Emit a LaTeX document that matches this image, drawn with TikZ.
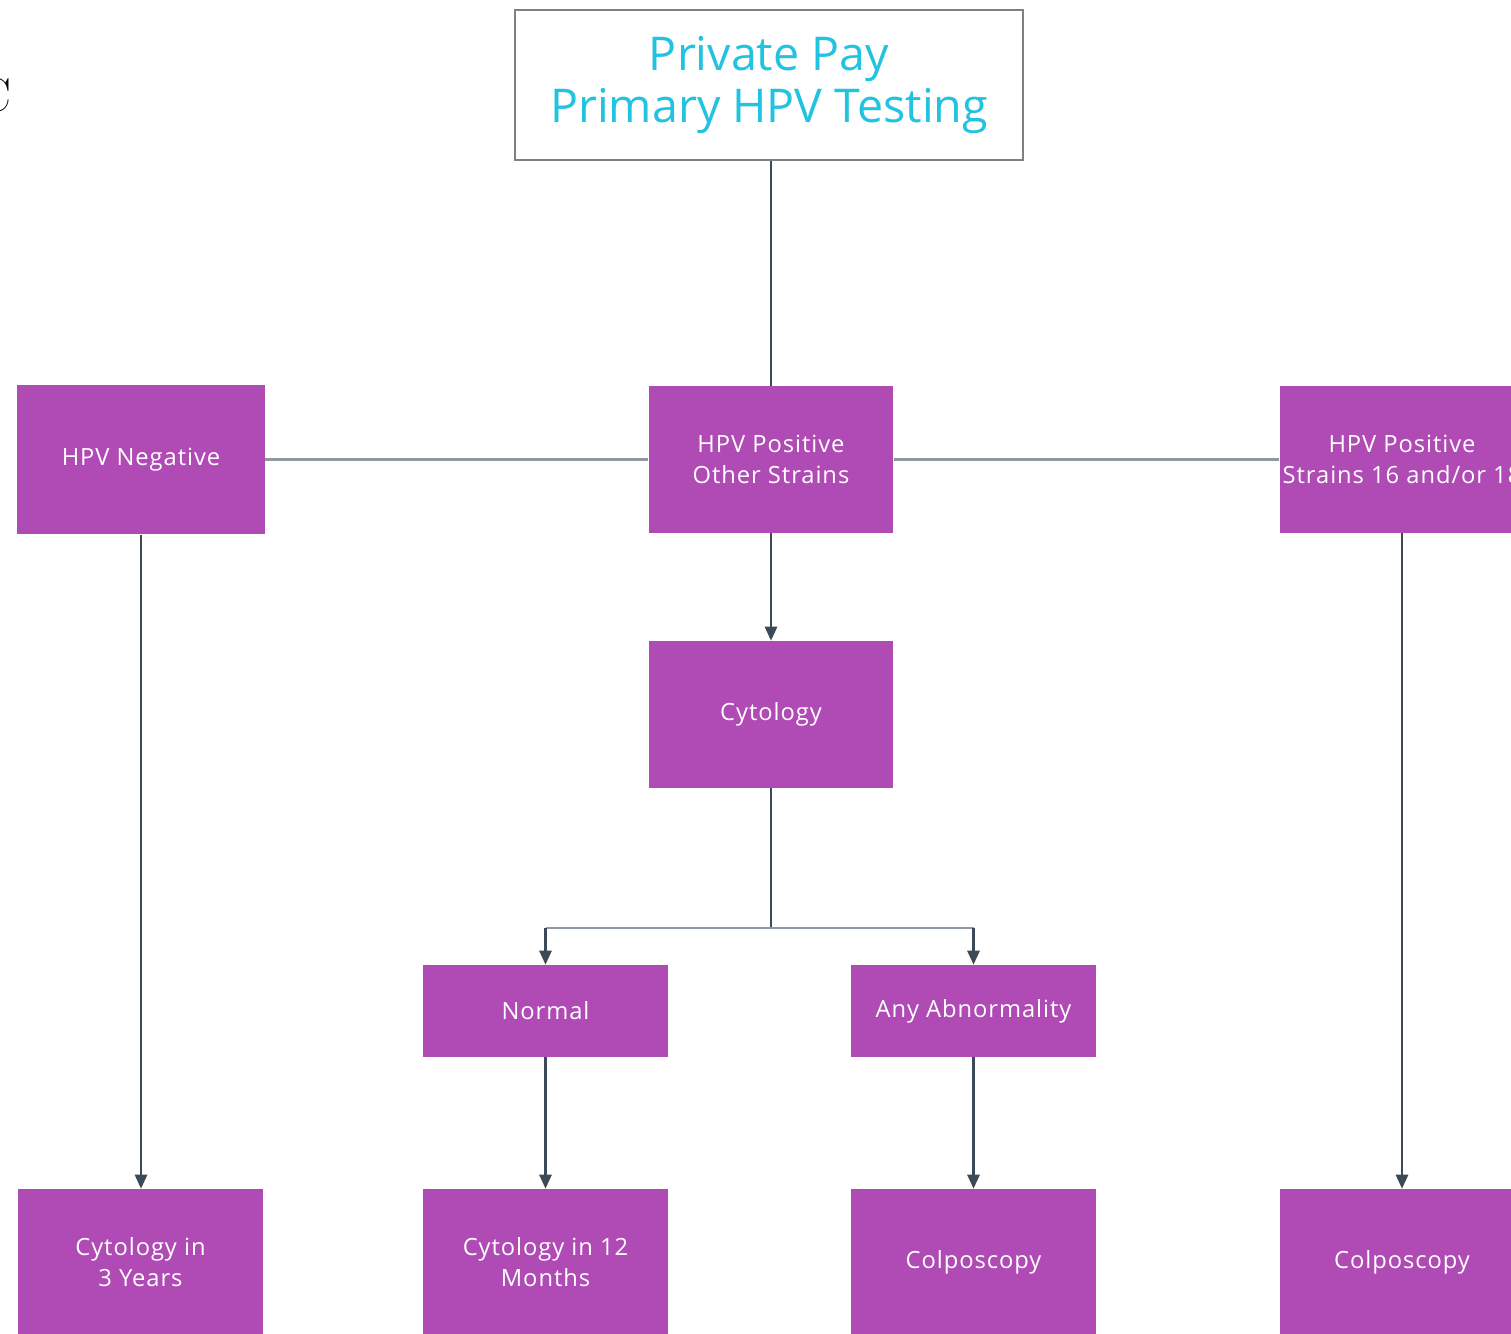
\documentclass[tikz,border=0pt]{standalone}
\usepackage{fontspec}
\setsansfont{Open Sans}
\newfontfamily\boxfont{Open Sans}[LetterSpace=4]
\usetikzlibrary{arrows.meta,calc}
\definecolor{hpvpurple}{HTML}{B04BB5}
\definecolor{hpvcyan}{HTML}{22C3E0}
\definecolor{linedark}{HTML}{3C4A58}
\definecolor{linegray}{HTML}{8E98A2}
\tikzset{
	boxp/.style={fill=hpvpurple, text=white, inner sep=0pt, align=center, minimum width=4.9cm, minimum height=2.94cm, font=\boxfont\fontsize{13.5}{18}\selectfont},
	boxlow/.style={boxp, minimum height=1.84cm},
	conn/.style={draw=linedark, line width=1.2pt},
	arr/.style={conn, -{Triangle[length=8pt,width=7pt]}},
	hline/.style={draw=linegray, line width=1.3pt}
}

\begin{document}
\begin{tikzpicture}[x=0.02cm,y=-0.02cm]
	\useasboundingbox (0,0) rectangle (1511,1333);
	\node (cutc) at (-5,95) {\rmfamily\fontsize{27}{30}\selectfont C};

	\node[draw=gray, line width=1.2pt, fill=white, minimum width=10.16cm, minimum height=3cm, align=center, text=hpvcyan, font=\sffamily\fontsize{26.5}{30}\selectfont] (top) at (769,85) {Private Pay\\Primary HPV Testing};

	\node[boxp, minimum width=4.96cm, minimum height=3cm] (neg) at (141,459.5) {HPV Negative};
	\node[boxp] (posoth) at (771,459.5) {HPV Positive\\Other Strains};
	\node[boxp] (pos1618) at (1402,459.5) {HPV Positive\\Strains 16 and/or 18};

	\node[boxp] (cyto) at (771,714.5) {Cytology};

	\node[boxlow] (normal) at (545.5,1011) {Normal};
	\node[boxlow] (abnorm) at (973.5,1011) {Any Abnormality};

	\node[boxp, minimum height=2.92cm] (cyto3) at (140.5,1262) {Cytology in\\3 Years};
	\node[boxp, minimum height=2.92cm] (cyto12) at (545.5,1262) {Cytology in 12\\Months};
	\node[boxp, minimum height=2.92cm] (colpo) at (973.5,1262) {Colposcopy};
	\node[boxp, minimum height=2.92cm] (colpo2) at (1402,1262) {Colposcopy};

	\draw[conn] (posoth.north |- top.south) -- (posoth.north);
	\draw[hline] (neg.east) -- (posoth.west);
	\draw[hline] (posoth.east) -- (pos1618.west);
	\draw[arr] (posoth.south) -- (cyto.north);

	\coordinate (split) at (771,928);
	\draw[conn] (cyto.south) -- (split);
	\draw[hline] (normal.north |- split) -- (abnorm.north |- split);
	\draw[arr] (normal.north |- split) -- (normal.north);
	\draw[arr] (abnorm.north |- split) -- (abnorm.north);

	\draw[arr] (neg.south) -- (neg.south |- cyto3.north);
	\draw[arr] (normal.south) -- (cyto12.north);
	\draw[arr] (abnorm.south) -- (colpo.north);
	\draw[arr] (pos1618.south) -- (pos1618.south |- colpo2.north);
\end{tikzpicture}
\end{document}
